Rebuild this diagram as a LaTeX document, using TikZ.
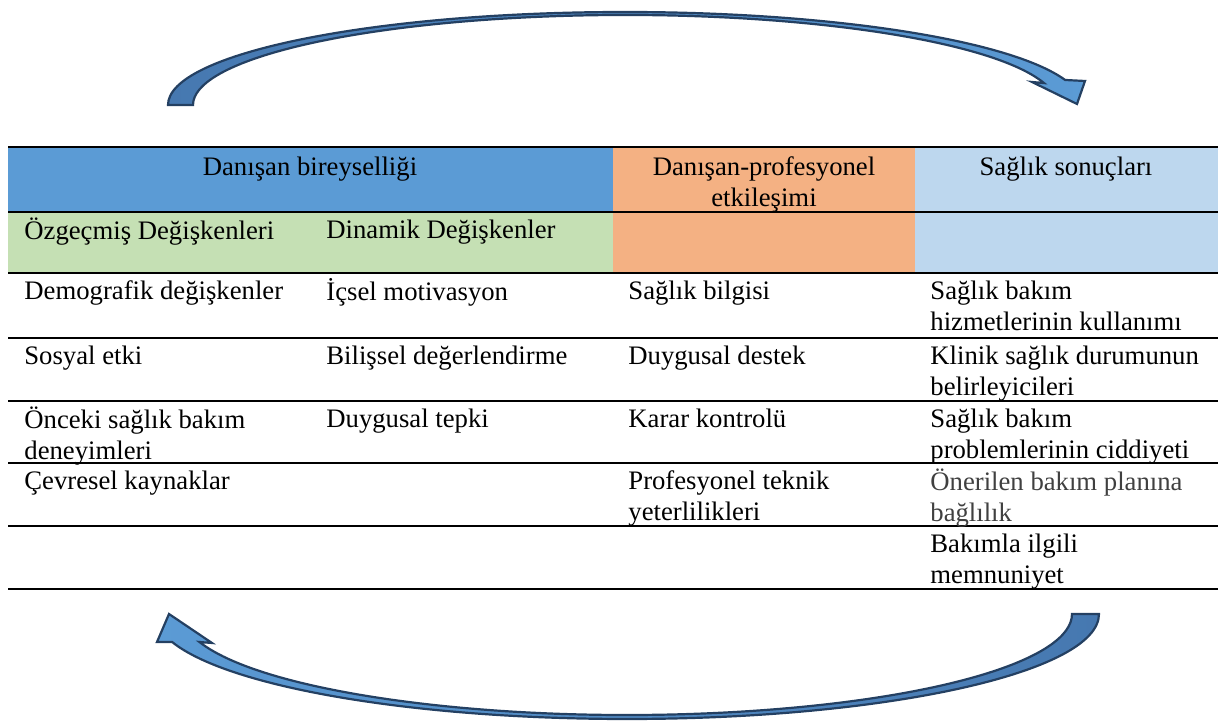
\documentclass[tikz,border=0pt]{standalone}
\usepackage{fontspec}
\setmainfont{Liberation Serif}
\usetikzlibrary{calc}

\definecolor{headblue}{HTML}{5B9BD5}
\definecolor{bggreen}{HTML}{C5E0B4}
\definecolor{bgorange}{HTML}{F4B183}
\definecolor{bglight}{HTML}{BDD7EE}
\definecolor{arrowdark}{RGB}{70,120,176}
\definecolor{arrowlight}{RGB}{91,155,213}
\definecolor{arrowline}{RGB}{36,64,98}
\definecolor{softtext}{HTML}{404040}
\newcommand{\cellfont}{\fontsize{26.7}{31}\selectfont}
\newcommand{\cellstrut}{\rule{0pt}{21pt}}

\begin{document}
\begin{tikzpicture}[x=1pt,y=1pt,thick,
  cell/.style={anchor=north west,inner sep=0pt,align=left,font=\cellfont},
  headcell/.style={anchor=north,inner sep=0pt,align=center,font=\cellfont},
  rowline/.style={line width=2.4pt},
  curved arrow/.style={draw=arrowline,line width=2.2pt,line join=miter}]
\useasboundingbox (0,0) rectangle (1219,722);

\fill[headblue] (8,575) rectangle (613,510);
\fill[bggreen] (8,510) rectangle (613,449);
\fill[bgorange] (613,575) rectangle (915,449);
\fill[bglight] (915,575) rectangle (1218,449);
\foreach \y in {575,510,449,384,321,259,196,133}
  \draw[rowline] (8,\y) -- (1218,\y);

\node[headcell] (indiv) at (310,568) {\cellstrut Danışan bireyselliği};
\node[headcell] (inter) at (764,568) {\cellstrut Danışan-profesyonel\\etkileşimi};
\node[headcell] (outcome) at (1066,568) {\cellstrut Sağlık sonuçları};
\node[cell] (past) at (24,505) {\cellstrut Özgeçmiş Değişkenleri};
\node[cell] (dynamic) at (326,505) {\cellstrut Dinamik Değişkenler};

\node[cell] (demo) at (24,444) {\cellstrut Demografik değişkenler};
\node[cell] (social) at (24,379) {\cellstrut Sosyal etki};
\node[cell] (prior) at (24,316) {\cellstrut Önceki sağlık bakım\\deneyimleri};
\node[cell] (env) at (24,254) {\cellstrut Çevresel kaynaklar};

\node[cell] (motiv) at (326,444) {\cellstrut İçsel motivasyon};
\node[cell] (cogn) at (326,379) {\cellstrut Bilişsel değerlendirme};
\node[cell] (affect) at (326,316) {\cellstrut Duygusal tepki};

\node[cell] (info) at (628,444) {\cellstrut Sağlık bilgisi};
\node[cell] (support) at (628,379) {\cellstrut Duygusal destek};
\node[cell] (decision) at (628,316) {\cellstrut Karar kontrolü};
\node[cell] (skill) at (628,254) {\cellstrut Profesyonel teknik\\yeterlilikleri};

\node[cell] (use) at (930,444) {\cellstrut Sağlık bakım\\hizmetlerinin kullanımı};
\node[cell] (clinic) at (930,379) {\cellstrut Klinik sağlık durumunun\\belirleyicileri};
\node[cell] (severity) at (930,316) {\cellstrut Sağlık bakım\\problemlerinin ciddiyeti};
\node[cell,text=softtext] (adhere) at (930,254) {\cellstrut Önerilen bakım planına\\bağlılık};
\node[cell] (satisf) at (930,191) {\cellstrut Bakımla ilgili\\memnuniyet};

\coordinate (topc) at (625,617);
\coordinate (botc) at (627,108);
\draw[curved arrow,left color=arrowdark,right color=arrowlight]
  (193,617) -- (168,617) arc[start angle=180,end angle=15.6,x radius=457pt,y radius=93pt]
  -- (1085,641) -- (1077,618) -- (1032,640) -- ($(topc)+(14.1:432pt and 90pt)$)
  arc[start angle=14.1,end angle=180,x radius=432pt,y radius=90pt] -- cycle;
\draw[curved arrow,left color=arrowlight,right color=arrowdark]
  (1072,108) -- (1099,108) arc[start angle=360,end angle=195.5,x radius=472pt,y radius=105pt]
  -- (157,80) -- (169,108) -- (212,79) -- ($(botc)+(196.1:445pt and 101pt)$)
  arc[start angle=196.1,end angle=360,x radius=445pt,y radius=101pt] -- cycle;
\end{tikzpicture}
\end{document}
